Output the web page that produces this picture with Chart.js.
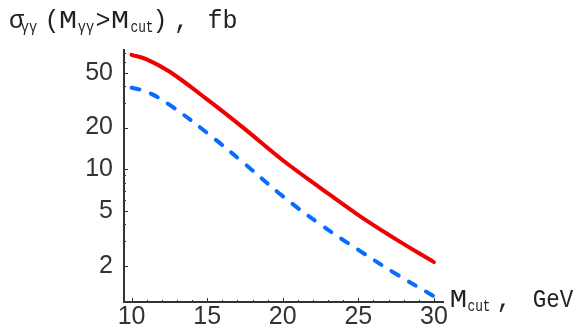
<!DOCTYPE html>
<html>
<head>
<meta charset="utf-8">
<script src="https://cdn.jsdelivr.net/npm/chart.js@4/dist/chart.umd.min.js"></script>
<style>
    html, body { margin: 0; padding: 0; background: #fff; }
    #wrap { width: 584px; height: 334px; }
</style>
</head>
<body>
<div id="wrap"><canvas id="sigmaChart" width="584" height="334"></canvas></div>
<script>
// values
const mCut = [10, 11, 12.5, 15, 17.5, 20, 22.5, 25, 27.5, 30];
const sigmaRed = [67.3, 62.5, 51, 32, 19.5, 11.6, 7.3, 4.65, 3.1, 2.12];
const sigmaBlue = [38.9, 36.4, 29.3, 18.3, 10.9, 6.37, 3.97, 2.6, 1.74, 1.2];
const xTickLabels = [10, 15, 20, 25, 30];
const yTickLabels = [2, 5, 10, 20, 50];

const axisColor = "#333";

// inward tick marks, like the original frame
const tickMarks = {
    id: "tickMarks",
    afterDraw(chart) {
        const ctx = chart.ctx;
        const xs = chart.scales.x, ys = chart.scales.y;
        const left = chart.chartArea.left, bottom = chart.chartArea.bottom;
        ctx.save();
        ctx.strokeStyle = axisColor;
        ctx.lineWidth = 1;
        for (let v = 10; v <= 30; v++) {
            const px = Math.round(xs.getPixelForValue(v)) + 0.5;
            const len = (v % 5 === 0) ? 4 : 2;
            ctx.beginPath();
            ctx.moveTo(px, bottom);
            ctx.lineTo(px, bottom - len);
            ctx.stroke();
        }
        [1, 10].forEach(dec => {
            for (let m = 1; m <= 9; m++) {
                const v = m * dec;
                if (v < ys.min || v > ys.max) continue;
                const py = Math.round(ys.getPixelForValue(v)) + 0.5;
                const len = yTickLabels.includes(v) ? 4 : 2;
                ctx.beginPath();
                ctx.moveTo(left, py);
                ctx.lineTo(left + len, py);
                ctx.stroke();
            }
        });
        ctx.restore();
    }
};

// one piece of text, centred at cx, squeezed or widened sideways
function drawSeg(ctx, t, cx, y, size, sx) {
    ctx.save();
    ctx.font = size + "px 'Liberation Mono'";
    ctx.textAlign = "center";
    ctx.translate(cx, y);
    ctx.scale(sx, 1);
    ctx.fillText(t, 0, 0);
    ctx.restore();
}

const labelText = {
    id: "labelText",
    afterDraw(chart) {
        const ctx = chart.ctx;
        ctx.save();
        ctx.fillStyle = "#222";
        ctx.textBaseline = "alphabetic";
        // y axis title: σγγ(Mγγ>Mcut), fb
        drawSeg(ctx, "σ", 16.5, 28, 25, 1);
        drawSeg(ctx, "γγ", 29, 32, 16, 0.85);
        drawSeg(ctx, "(", 52, 28, 25, 1);
        drawSeg(ctx, "M", 68, 28, 25, 1.2);
        drawSeg(ctx, "γγ", 86, 32, 16, 0.85);
        drawSeg(ctx, ">", 103, 28, 25, 1);
        drawSeg(ctx, "M", 120, 28, 25, 1.2);
        drawSeg(ctx, "cut", 142, 32, 16, 0.8);
        drawSeg(ctx, ")", 160, 28, 25, 1);
        drawSeg(ctx, ",", 181.5, 28, 25, 1);
        drawSeg(ctx, "fb", 222.5, 28, 25, 1);
        // x axis title: Mcut, GeV
        drawSeg(ctx, "M", 458.5, 307, 25, 1.15);
        drawSeg(ctx, "cut", 479, 311, 16, 0.8);
        drawSeg(ctx, ",", 504, 307, 25, 1);
        drawSeg(ctx, "GeV", 553, 307, 25, 0.9);
        ctx.restore();
    }
};

const tickFont = { family: "'Liberation Sans'", size: 25 };

new Chart(document.getElementById("sigmaChart").getContext("2d"), {
    type: "line",
    data: {
        datasets: [{
            data: mCut.map((x, i) => ({ x: x, y: sigmaRed[i] })),
            borderColor: "#f00000",
            borderWidth: 4,
            pointRadius: 0,
            tension: 0.4,
            borderCapStyle: "round"
        }, {
            data: mCut.map((x, i) => ({ x: x, y: sigmaBlue[i] })),
            borderColor: "#0a6cff",
            borderWidth: 4,
            pointRadius: 0,
            borderDash: [8, 12],
            tension: 0.4,
            borderCapStyle: "round"
        }]
    },
    options: {
        responsive: false,
        animation: false,
        layout: { padding: { left: 0, right: 141, top: 50, bottom: 0 } },
        plugins: { legend: { display: false }, tooltip: { enabled: false } },
        scales: {
            x: {
                type: "linear",
                min: 9.5,
                max: 30.6,
                afterBuildTicks: s => { s.ticks = xTickLabels.map(v => ({ value: v })); },
                afterFit: s => { s.height = 32; },
                grid: { display: false, drawTicks: false },
                border: { display: true, color: axisColor, width: 2 },
                ticks: { font: tickFont, color: "#333", padding: 0, maxRotation: 0 }
            },
            y: {
                type: "logarithmic",
                min: 1.09,
                max: 73,
                afterBuildTicks: s => { s.ticks = yTickLabels.map(v => ({ value: v })); },
                afterFit: s => { s.width = 124; },
                grid: { display: false, drawTicks: false },
                border: { display: true, color: axisColor, width: 2 },
                ticks: { font: tickFont, color: "#333", padding: 11, callback: v => String(v) }
            }
        }
    },
    plugins: [tickMarks, labelText]
});
</script>
</body>
</html>
